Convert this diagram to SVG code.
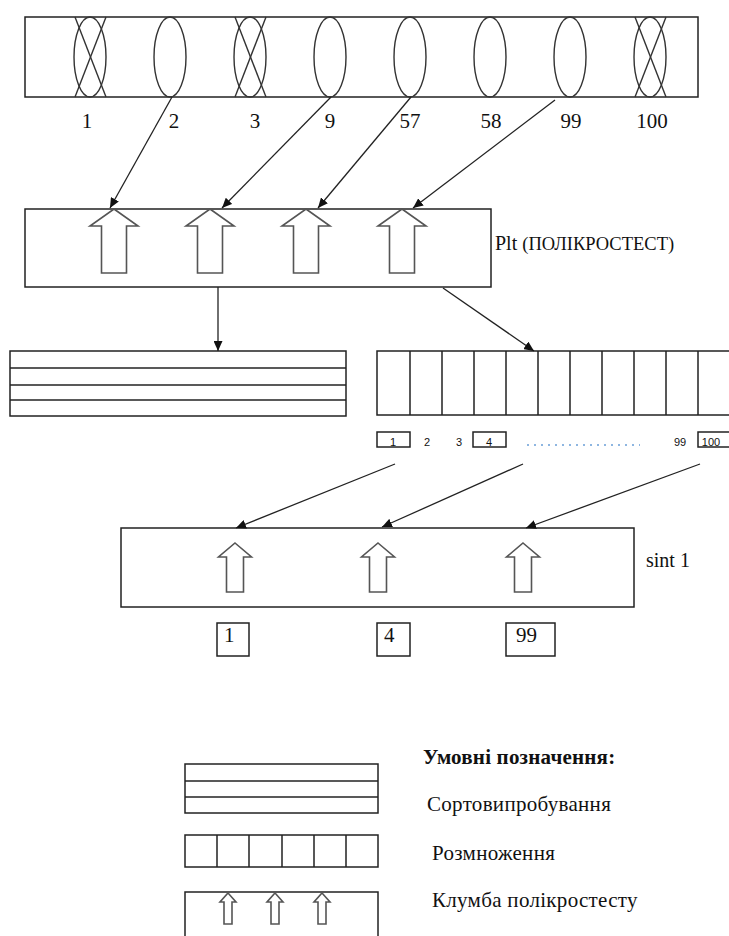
<svg xmlns="http://www.w3.org/2000/svg" width="729" height="936" viewBox="0 0 729 936">
<style>
.box{fill:none;stroke:#222;stroke-width:1.5}
.ell{fill:none;stroke:#333;stroke-width:1.4}
.conn{stroke:#222;stroke-width:1.3;fill:none;marker-end:url(#ah)}
.barrow{fill:#fff;stroke:#555;stroke-width:1.6}
.t{font-family:"Liberation Serif","Times New Roman",serif;fill:#111}
.s{font-family:"Liberation Sans",Arial,sans-serif;fill:#111;font-size:11px}
.lg{font-size:21px;letter-spacing:0.3px}
</style>
<defs>
<marker id="ah" markerUnits="userSpaceOnUse" markerWidth="10" markerHeight="9" refX="10" refY="4.5" orient="auto">
<path d="M0,0 L10,4.5 L0,9 Z" fill="#111"/>
</marker>
<path id="bigArrow" d="M0,0 L24,17 L12.5,17 L12.5,64 L-12.5,64 L-12.5,17 L-24,17 Z"/>
<path id="midArrow" d="M0,0 L16.5,14 L8.5,14 L8.5,49 L-8.5,49 L-8.5,14 L-16.5,14 Z"/>
<path id="smallArrow" d="M0,0 L8,9 L4,9 L4,31 L-4,31 L-4,9 L-8,9 Z"/>
</defs>

<g id="parents">
<rect class="box" x="25" y="17" width="673" height="80"/>
<g id="p1"><ellipse class="ell" cx="90" cy="57" rx="16" ry="40"/><line class="ell" x1="75" y1="17" x2="106" y2="97"/><line class="ell" x1="106" y1="17" x2="75" y2="97"/></g>
<g id="p2"><ellipse class="ell" cx="170" cy="57" rx="16" ry="40"/></g>
<g id="p3"><ellipse class="ell" cx="250" cy="57" rx="16" ry="40"/><line class="ell" x1="235" y1="17" x2="266" y2="97"/><line class="ell" x1="266" y1="17" x2="235" y2="97"/></g>
<g id="p9"><ellipse class="ell" cx="330" cy="57" rx="16" ry="40"/></g>
<g id="p57"><ellipse class="ell" cx="410" cy="57" rx="16" ry="40"/></g>
<g id="p58"><ellipse class="ell" cx="490" cy="57" rx="16" ry="40"/></g>
<g id="p99"><ellipse class="ell" cx="570" cy="57" rx="16" ry="40"/></g>
<g id="p100"><ellipse class="ell" cx="650" cy="57" rx="16" ry="40"/><line class="ell" x1="635" y1="17" x2="666" y2="97"/><line class="ell" x1="666" y1="17" x2="635" y2="97"/></g>
<g class="t" font-size="21" text-anchor="middle">
<text x="87" y="128">1</text>
<text x="174" y="128">2</text>
<text x="255" y="128">3</text>
<text x="330" y="128">9</text>
<text x="410" y="128">57</text>
<text x="491" y="128">58</text>
<text x="571" y="128">99</text>
<text x="652" y="128">100</text>
</g>
</g>

<g id="plt">
<rect class="box" x="25" y="209" width="466" height="78"/>
<use href="#bigArrow" class="barrow" x="114" y="209"/>
<use href="#bigArrow" class="barrow" x="210" y="209"/>
<use href="#bigArrow" class="barrow" x="306" y="209"/>
<use href="#bigArrow" class="barrow" x="402" y="209"/>
<text class="t" x="495" y="250" font-size="20">Plt <tspan font-size="18.5">(ПОЛІКРОСТЕСТ)</tspan></text>
</g>

<g id="trial">
<rect class="box" x="10" y="351" width="336" height="65"/>
<line class="box" x1="10" y1="368" x2="346" y2="368"/>
<line class="box" x1="10" y1="385" x2="346" y2="385"/>
<line class="box" x1="10" y1="400" x2="346" y2="400"/>
</g>

<g id="multiplication">
<rect class="box" x="377" y="351" width="370" height="64"/>
<path class="box" d="M410,351V415M442,351V415M474,351V415M506,351V415M538,351V415M570,351V415M602,351V415M634,351V415M666,351V415M698,351V415"/>
<rect class="box" x="377" y="432" width="33" height="15"/>
<rect class="box" x="473" y="432" width="33" height="15"/>
<rect class="box" x="698" y="432" width="45" height="15"/>
<g class="s" text-anchor="middle">
<text x="393" y="446">1</text>
<text x="427" y="446">2</text>
<text x="459" y="446">3</text>
<text x="489" y="446">4</text>
<text x="680" y="446">99</text>
<text x="711" y="446">100</text>
</g>
<line x1="527" y1="445" x2="640" y2="445" stroke="#6a9fd8" stroke-width="1.3" stroke-dasharray="2,5"/>
</g>

<g id="sint">
<rect class="box" x="121" y="528" width="513" height="79"/>
<use href="#midArrow" class="barrow" x="235" y="543"/>
<use href="#midArrow" class="barrow" x="378" y="543"/>
<use href="#midArrow" class="barrow" x="523" y="543"/>
<text class="t" x="646" y="567" font-size="20">sint 1</text>
<rect class="box" x="217" y="623" width="32" height="33"/>
<rect class="box" x="377" y="623" width="33" height="33"/>
<rect class="box" x="506" y="623" width="49" height="33"/>
<g class="t" font-size="21">
<text x="224" y="642">1</text>
<text x="384" y="642">4</text>
<text x="516" y="642">99</text>
</g>
</g>

<g id="connectors">
<line class="conn" x1="172" y1="97" x2="110" y2="208"/>
<line class="conn" x1="331" y1="97" x2="222" y2="208"/>
<line class="conn" x1="411" y1="97" x2="318" y2="208"/>
<line class="conn" x1="555" y1="100" x2="413" y2="208"/>
<line class="conn" x1="218" y1="287" x2="218" y2="351"/>
<line class="conn" x1="443" y1="288" x2="534" y2="351"/>
<line class="conn" x1="395" y1="464" x2="236" y2="528"/>
<line class="conn" x1="523" y1="464" x2="382" y2="527"/>
<line class="conn" x1="700" y1="464" x2="526" y2="528"/>
</g>

<g id="legend">
<text class="t" x="423" y="764" font-size="21" font-weight="bold" letter-spacing="0.2">Умовні позначення:</text>
<g id="legend-trial">
<rect class="box" x="185" y="764" width="193" height="49"/>
<line class="box" x1="185" y1="781" x2="378" y2="781"/>
<line class="box" x1="185" y1="797" x2="378" y2="797"/>
<text class="t lg" x="427" y="811">Сортовипробування</text>
</g>
<g id="legend-mult">
<rect class="box" x="185" y="835" width="193" height="32"/>
<path class="box" d="M217,835V867M249,835V867M282,835V867M314,835V867M346,835V867"/>
<text class="t lg" x="432" y="860">Розмноження</text>
</g>
<g id="legend-bed">
<rect class="box" x="185" y="892" width="193" height="60"/>
<use href="#smallArrow" class="barrow" x="228" y="893"/>
<use href="#smallArrow" class="barrow" x="275" y="893"/>
<use href="#smallArrow" class="barrow" x="322" y="893"/>
<text class="t lg" x="432" y="907">Клумба полікростесту</text>
</g>
</g>
</svg>
